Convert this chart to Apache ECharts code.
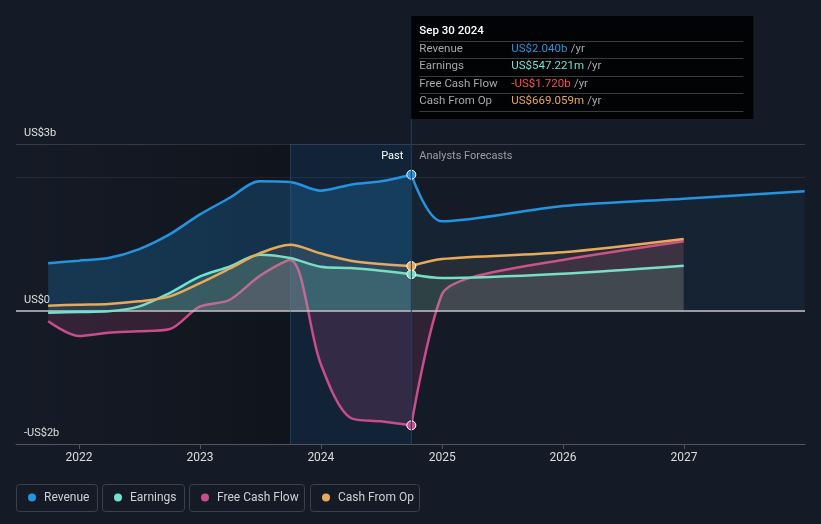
<!DOCTYPE html>
<html>
<head>
<meta charset="utf-8">
<script src="https://cdn.jsdelivr.net/npm/echarts@6/dist/echarts.min.js"></script>
<style>
html,body{margin:0;padding:0;background:#151b26;}
#c{width:821px;height:524px;}
</style>
</head>
<body>
<div id="c"></div>
<script>
// ---- data (values in US$ billions) ----
const pastDates = ['2021-09-30','2021-12-31','2022-03-31','2022-06-30','2022-09-30','2022-12-31','2023-03-31','2023-06-30','2023-09-30','2023-12-31','2024-03-31','2024-06-30','2024-09-30'];
const revenuePast  = [0.71, 0.75, 0.79, 0.92, 1.14, 1.44, 1.69, 1.94, 1.93, 1.80, 1.89, 1.94, 2.040];
const earningsPast = [-0.03, -0.02, -0.01, 0.06, 0.26, 0.51, 0.66, 0.84, 0.79, 0.66, 0.64, 0.60, 0.547221];
const fcfPast      = [-0.16, -0.38, -0.33, -0.31, -0.28, 0.06, 0.16, 0.52, 0.76, -0.79, -1.61, -1.66, -1.720];
const cfoPast      = [0.075, 0.09, 0.10, 0.14, 0.21, 0.41, 0.63, 0.86, 0.99, 0.86, 0.75, 0.70, 0.669059];

const revForecastDates = ['2024-09-30','2024-12-31','2025-12-31','2026-12-31','2027-12-31'];
const revenueForecast  = [2.040, 1.34, 1.57, 1.68, 1.79];
const forecastDates    = ['2024-09-30','2024-12-31','2025-12-31','2026-12-31'];
const earningsForecast = [0.547221, 0.49, 0.555, 0.675];
const cfoForecast      = [0.669059, 0.775, 0.875, 1.075];
const fcfForecastDates = ['2024-09-30','2024-12-31','2025-03-31','2025-12-31','2026-12-31'];
const fcfForecast      = [-1.720, 0.24, 0.50, 0.76, 1.04];

const yTickLabels = {'-2': '-US$2b', '0': 'US$0', '2.5': 'US$3b'};
const legendNames = ['Revenue', 'Earnings', 'Free Cash Flow', 'Cash From Op'];
const tooltipDate = 'Sep 30 2024';

const C = {rev:'#2394df', earn:'#6fe3cf', fcf:'#c94c8d', cfo:'#e9a95b'};

function pairs(d, v){ return d.map((x,i)=>[x, v[i]]); }
function withEndDot(arr, color){
  const a = arr.slice();
  const last = a[a.length-1];
  a[a.length-1] = {value:last, symbol:'circle', symbolSize:9, itemStyle:{color:color, borderColor:'#fff', borderWidth:1}};
  return a;
}
function line(name, data, color, fillAlpha, z){
  return {
    type:'line', name:name, data:data, smooth:0.3,
    symbol:'none', z:z,
    lineStyle:{color:color, width:2.5},
    itemStyle:{color:color},
    areaStyle:{color:color, opacity:fillAlpha},
    emphasis:{disabled:true}, silent:true
  };
}

const chart = echarts.init(document.getElementById('c'), null, {renderer:'canvas'});

const series = [
  Object.assign(line('Revenue', withEndDot(pairs(pastDates, revenuePast), C.rev), C.rev, 0.24, 3), {
    markArea:{silent:true, data:[
      [{xAxis:'2021-06-25', itemStyle:{color:{type:'linear',x:0,y:0,x2:1,y2:0,colorStops:[{offset:0,color:'rgba(0,0,0,0)'},{offset:1,color:'rgba(0,0,0,0.25)'}]}}},{xAxis:'2023-09-30'}],
      [{xAxis:'2023-09-30', itemStyle:{color:'rgba(10,75,140,0.17)'}},{xAxis:'2024-09-30'}]
    ]},
    markLine:{silent:true, symbol:'none', label:{show:false}, data:[
      {yAxis:0, lineStyle:{color:'#c4c7cc', width:1.5, type:'solid'}},
      {xAxis:'2023-09-30', lineStyle:{color:'rgba(45,95,140,0.45)', width:1, type:'solid'}}
    ]}
  }),
  line('RevenueF', pairs(revForecastDates, revenueForecast), C.rev, 0.07, 3),
  line('FCF', withEndDot(pairs(pastDates, fcfPast), C.fcf), C.fcf, 0.18, 4),
  line('FCFF', pairs(fcfForecastDates, fcfForecast), C.fcf, 0.14, 4),
  line('Earnings', withEndDot(pairs(pastDates, earningsPast), C.earn), C.earn, 0.18, 5),
  line('EarningsF', pairs(forecastDates, earningsForecast), C.earn, 0.12, 5),
  line('CFO', withEndDot(pairs(pastDates, cfoPast), C.cfo), C.cfo, 0.10, 6),
  line('CFOF', pairs(forecastDates, cfoForecast), C.cfo, 0.08, 6)
];

chart.setOption({
  backgroundColor:'#151b26',
  animation:false,
  grid:{left:16, right:16, top:144, bottom:80, containLabel:false},
  xAxis:{
    type:'time', min:'2021-06-25', max:'2028-01-01',
    minInterval:365*24*3600*1000, maxInterval:366*24*3600*1000,
    axisLine:{onZero:false, lineStyle:{color:'#50555e', width:1}},
    axisTick:{show:true, length:5, lineStyle:{color:'#50555e'}},
    splitLine:{show:false},
    axisLabel:{color:'#dcdcdc', fontSize:12, fontFamily:'Roboto', margin:8,
      formatter:function(v){ const d=new Date(v); return (d.getMonth()===0 && d.getDate()===1) ? String(d.getFullYear()) : ''; }}
  },
  yAxis:{
    type:'value', min:-2, max:2.5, interval:0.5,
    axisLine:{show:false}, axisTick:{show:false},
    splitLine:{show:true, lineStyle:{width:1, color:['rgba(0,0,0,0)','rgba(0,0,0,0)','rgba(0,0,0,0)','rgba(0,0,0,0)','rgba(0,0,0,0)','rgba(0,0,0,0)','rgba(0,0,0,0)','rgba(0,0,0,0)','#262c37','#383e48']}},
    axisLabel:{inside:true, margin:8, verticalAlign:'bottom', padding:[0,0,5,0], color:'#e0e0e0', fontSize:11, fontFamily:'Roboto',
      formatter:function(v){ const k=String(Math.round(v*10)/10); return yTickLabels[k] || ''; }}
  },
  series:series
});

// ---- overlays: tooltip box, past/forecast labels, legend ----
const xNow = chart.convertToPixel({xAxisIndex:0}, '2024-09-30');
function fmt(v){
  const s = v<0 ? '-' : '';
  const a = Math.abs(v);
  return a>=1 ? s+'US$'+a.toFixed(3)+'b' : s+'US$'+(a*1000).toFixed(3)+'m';
}
const rows = [
  ['Revenue', revenuePast[revenuePast.length-1], C.rev],
  ['Earnings', earningsPast[earningsPast.length-1], C.earn],
  ['Free Cash Flow', fcfPast[fcfPast.length-1], '#ff4d4d'],
  ['Cash From Op', cfoPast[cfoPast.length-1], C.cfo]
];
const font = 'Roboto, sans-serif';
const g = [];
g.push({type:'line', shape:{x1:xNow, y1:119, x2:xNow, y2:444}, style:{stroke:'#223e5a', lineWidth:1}, z:50});
g.push({type:'rect', shape:{x:xNow, y:16, width:342, height:103}, style:{fill:'#020304'}, z:60});
g.push({type:'text', x:xNow+8, y:31, style:{text:tooltipDate, fill:'#ffffff', font:'500 11.5px '+font, verticalAlign:'middle'}, z:61});
const lineYs = [41, 58, 76, 93, 111];
lineYs.forEach(y=>g.push({type:'line', shape:{x1:xNow+8, y1:y+0.5, x2:xNow+332, y2:y+0.5}, style:{stroke:'#3a3c40', lineWidth:1}, z:61}));
const rowYs = [49, 66, 84, 101];
rows.forEach((r,i)=>{
  g.push({type:'text', x:xNow+8, y:rowYs[i], style:{text:r[0], fill:'#a8a8a8', font:'11.5px '+font, verticalAlign:'middle'}, z:61});
  g.push({type:'text', x:xNow+100, y:rowYs[i], style:{rich:{v:{fill:r[2], font:'11.5px '+font}, u:{fill:'#a8a8a8', font:'11.5px '+font}}, text:'{v|'+fmt(r[1])+'} {u|/yr}', verticalAlign:'middle'}, z:61});
});
g.push({type:'text', x:xNow-8, y:156, style:{text:'Past', fill:'#ffffff', font:'11px '+font, align:'right', verticalAlign:'middle'}, z:40});
g.push({type:'text', x:xNow+8, y:156, style:{text:'Analysts Forecasts', fill:'#9a9da2', font:'11px '+font, align:'left', verticalAlign:'middle'}, z:40});

const legendBoxes = [[16,81],[102,82],[189,115],[310,109]];
const legendColors = [C.rev, C.earn, C.fcf, C.cfo];
legendNames.forEach((n,i)=>{
  const [x,w] = legendBoxes[i];
  g.push({type:'rect', shape:{x:x+0.5, y:484.5, width:w, height:27, r:3}, style:{fill:'none', stroke:'#3a3f48', lineWidth:1}, z:40});
  g.push({type:'circle', shape:{cx:x+16, cy:497.5, r:4}, style:{fill:legendColors[i]}, z:41});
  g.push({type:'text', x:x+28, y:497.5, style:{text:n, fill:'#cfd0d2', font:'12px '+font, verticalAlign:'middle'}, z:41});
});
chart.setOption({graphic:{elements:g}});
</script>
</body>
</html>
